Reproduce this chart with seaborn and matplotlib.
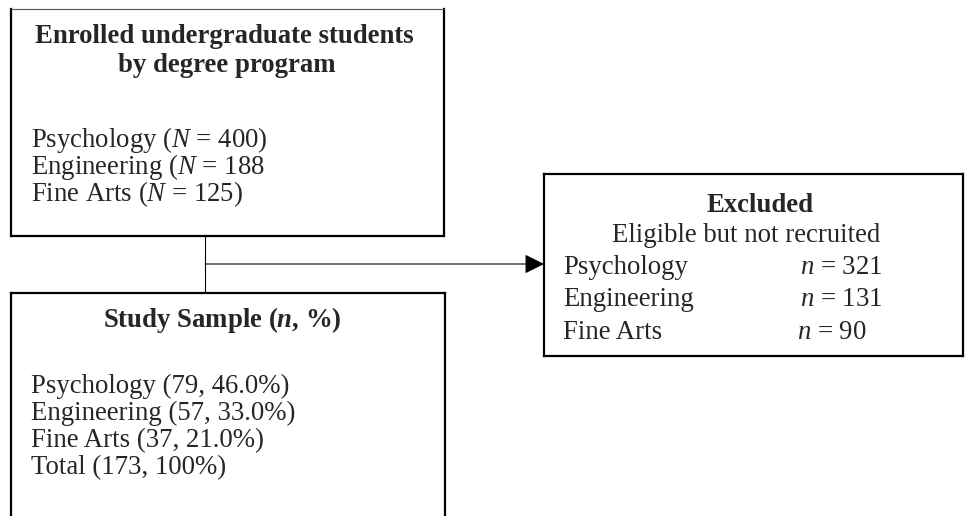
"""
Participant flow diagram: enrolled students, excluded, and study sample.
"""

import matplotlib
matplotlib.use("Agg")
import matplotlib.pyplot as plt
import seaborn as sns
from matplotlib.patches import Rectangle

# Data
PROGRAMS = ["Psychology", "Engineering", "Fine Arts"]
ENROLLED_N = [400, 188, 125]
ENROLLED_CLOSE = [")", "", ")"]  # the original omits one bracket
EXCLUDED_N = [321, 131, 90]
SAMPLE_N = [79, 57, 37]
SAMPLE_PCT = [46.0, 33.0, 21.0]
SAMPLE_TOTAL = 173

TITLE_TOP = ["Enrolled undergraduate students", "by degree program"]
TITLE_EXCL = ["Excluded", "Eligible but not recruited"]
TITLE_SAMPLE = r"Study Sample ($\mathbfit{n}$, %)"

W, H = 965, 516
FS = 19.3

sns.set_theme(style="white")
plt.rcParams["font.family"] = ["Liberation Serif", "DejaVu Serif"]
plt.rcParams["mathtext.fontset"] = "custom"
plt.rcParams["mathtext.rm"] = "Liberation Serif"
plt.rcParams["mathtext.it"] = "Liberation Serif:italic"
plt.rcParams["mathtext.bf"] = "Liberation Serif:bold"
plt.rcParams["mathtext.bfit"] = "Liberation Serif:italic:bold"

fig = plt.figure(figsize=(W / 100, H / 100), dpi=100)
ax = fig.add_axes([0, 0, 1, 1])
ax.set_xlim(0, W)
ax.set_ylim(H, 0)
ax.axis("off")


def box(x0, y0, x1, y1, top_thin=False, bottom=True):
    """Draw a box with heavier sides, like the original document frame."""
    lw = 1.6
    ax.plot([x0, x0], [y0, y1], color="black", lw=lw, solid_capstyle="projecting")
    ax.plot([x1, x1], [y0, y1], color="black", lw=lw, solid_capstyle="projecting")
    if top_thin:
        ax.plot([x0, x1], [y0, y0], color="#555555", lw=0.8)
    else:
        ax.plot([x0, x1], [y0, y0], color="black", lw=lw, solid_capstyle="projecting")
    if bottom:
        ax.plot([x0, x1], [y1, y1], color="black", lw=lw, solid_capstyle="projecting")


# Boxes
box(11, 9, 444, 236, top_thin=True)
box(11, 293, 445, H + 5, bottom=False)
box(544, 174, 963, 356)

# Connectors
ax.plot([205, 205], [236, 293], color="black", lw=0.8)
ax.annotate(
    "",
    xy=(544, 264),
    xytext=(205, 264),
    arrowprops=dict(
        arrowstyle="-|>,head_length=1.0,head_width=0.5",
        color="black",
        lw=0.8,
        shrinkA=0,
        shrinkB=0,
    ),
)

# Enrolled box
ax.text(224, 43, TITLE_TOP[0], fontsize=FS, fontweight="bold",
        ha="center", va="baseline")
ax.text(227, 72, TITLE_TOP[1], fontsize=FS, fontweight="bold",
        ha="center", va="baseline")
for i, (prog, n, close) in enumerate(zip(PROGRAMS, ENROLLED_N, ENROLLED_CLOSE)):
    ax.text(31, 147 + 27 * i, rf"{prog} ($N$ = {n}{close}",
            fontsize=FS, ha="left", va="baseline")

# Excluded box
ax.text(760, 212, TITLE_EXCL[0], fontsize=FS, fontweight="bold",
        ha="center", va="baseline")
ax.text(746, 242, TITLE_EXCL[1], fontsize=FS, ha="center", va="baseline")
n_x = [800, 800, 797]
for i, (prog, n) in enumerate(zip(PROGRAMS, EXCLUDED_N)):
    y = 274 + 32.5 * i
    ax.text(563, y, prog, fontsize=FS, ha="left", va="baseline")
    ax.text(n_x[i], y, rf"$n$ = {n}", fontsize=FS, ha="left", va="baseline")

# Study sample box
ax.text(222, 327, TITLE_SAMPLE, fontsize=FS, fontweight="bold",
        ha="center", va="baseline")
rows = [f"{p} ({n}, {pct:.1f}%)" for p, n, pct in zip(PROGRAMS, SAMPLE_N, SAMPLE_PCT)]
rows.append(f"Total ({SAMPLE_TOTAL}, 100%)")
for i, row in enumerate(rows):
    ax.text(31, 393 + 27 * i, row, fontsize=FS, ha="left", va="baseline")

fig.savefig("out.png", dpi=100, facecolor="white")
plt.close(fig)
